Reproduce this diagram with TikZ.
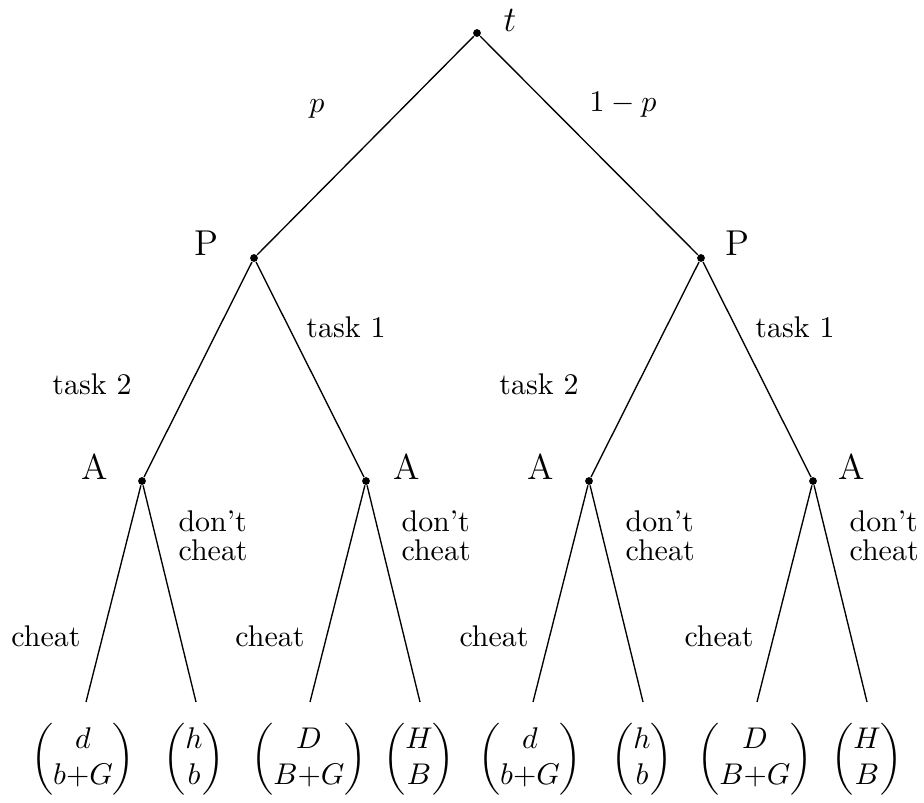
\documentclass[tikz,border=0pt]{standalone}
\usepackage{amsmath}
\begin{document}
\begin{tikzpicture}[x=0.334pt,y=-0.334pt,
  dot/.style={circle,fill=black,inner sep=0pt,minimum size=2.6pt},
  player/.style={inner sep=0pt,font=\large},
  lbl/.style={inner sep=0pt},
  two/.style={inner sep=0pt,align=left,anchor=base west},
  leaf/.style={inner sep=0pt},
  edge/.style={line width=0.45pt}]
\useasboundingbox (0,0) rectangle (924,802);
% decision nodes
\node[dot] (r) at (477,33) {};
\node[dot] (pl) at (254,258) {};
\node[dot] (pr) at (701,258) {};
\node[dot] (a1) at (142,481) {};
\node[dot] (a2) at (366,481) {};
\node[dot] (a3) at (589,481) {};
\node[dot] (a4) at (813,481) {};
% leaves
\node[leaf] (l1) at (83,759) {$\begin{pmatrix} d\\ b{+}G\end{pmatrix}$};
\node[leaf] (l2) at (194,759) {$\begin{pmatrix} h\\ b\end{pmatrix}$};
\node[leaf] (l3) at (309,759) {$\begin{pmatrix} D\\ B{+}G\end{pmatrix}$};
\node[leaf] (l4) at (419,759) {$\begin{pmatrix} H\\ B\end{pmatrix}$};
\node[leaf] (l5) at (530,759) {$\begin{pmatrix} d\\ b{+}G\end{pmatrix}$};
\node[leaf] (l6) at (642,759) {$\begin{pmatrix} h\\ b\end{pmatrix}$};
\node[leaf] (l7) at (755,759) {$\begin{pmatrix} D\\ B{+}G\end{pmatrix}$};
\node[leaf] (l8) at (867,759) {$\begin{pmatrix} H\\ B\end{pmatrix}$};
% end points of leaf edges
\coordinate (e1) at (86,702);
\coordinate (e2) at (196,702);
\coordinate (e3) at (310,702);
\coordinate (e4) at (420,702);
\coordinate (e5) at (533,702);
\coordinate (e6) at (643,702);
\coordinate (e7) at (757,702);
\coordinate (e8) at (867,702);
% edges
\draw[edge] (r) -- (pl);
\draw[edge] (r) -- (pr);
\draw[edge] (pl) -- (a1);
\draw[edge] (pl) -- (a2);
\draw[edge] (pr) -- (a3);
\draw[edge] (pr) -- (a4);
\draw[edge] (a1) -- (e1);
\draw[edge] (a1) -- (e2);
\draw[edge] (a2) -- (e3);
\draw[edge] (a2) -- (e4);
\draw[edge] (a3) -- (e5);
\draw[edge] (a3) -- (e6);
\draw[edge] (a4) -- (e7);
\draw[edge] (a4) -- (e8);
% player labels
\node[player] (tl) at (510,20) {$t$};
\node[player] (pll) at (206,243) {P};
\node[player] (prl) at (737,243) {P};
\node[player] (a1l) at (95,467) {A};
\node[player] (a2l) at (407,467) {A};
\node[player] (a3l) at (541,467) {A};
\node[player] (a4l) at (852,467) {A};
% branch labels
\node[lbl] (bp) at (317,109) {$p$};
\node[lbl] (b1p) at (623,105) {$1-p$};
\node[lbl] (t2l) at (92,384) {task 2};
\node[lbl] (t1l) at (346,327) {task 1};
\node[lbl] (t2r) at (539,384) {task 2};
\node[lbl] (t1r) at (795,327) {task 1};
\node[two] (d1) at (178,560) {don't\\[-2.5pt]cheat};
\node[two] (d2) at (401,560) {don't\\[-2.5pt]cheat};
\node[two] (d3) at (625,560) {don't\\[-2.5pt]cheat};
\node[two] (d4) at (849,560) {don't\\[-2.5pt]cheat};
\node[lbl] (c1) at (46,636) {cheat};
\node[lbl] (c2) at (270,636) {cheat};
\node[lbl] (c3) at (494,636) {cheat};
\node[lbl] (c4) at (719,636) {cheat};
\end{tikzpicture}
\end{document}
